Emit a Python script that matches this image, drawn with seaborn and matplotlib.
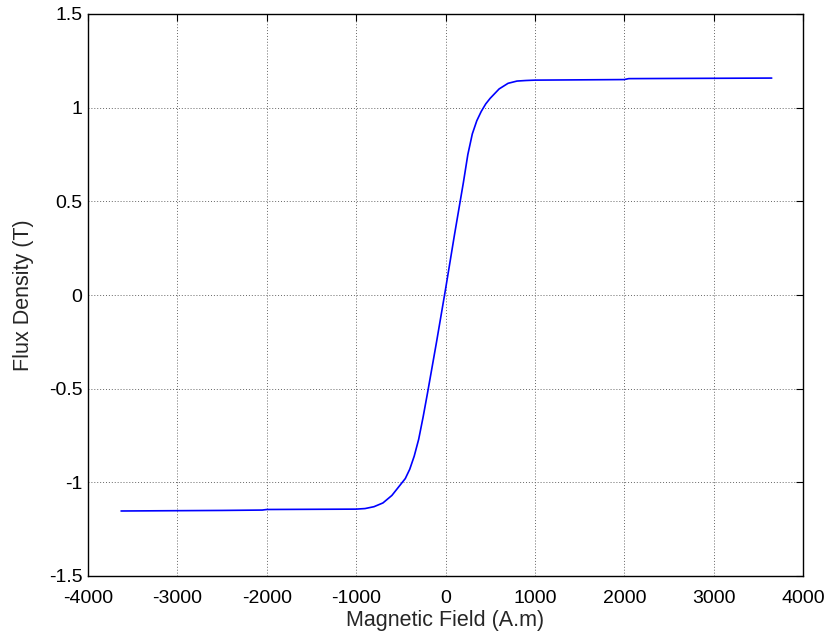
import matplotlib
matplotlib.use("Agg")
import matplotlib.pyplot as plt
import seaborn as sns
import pandas as pd

# Data (B-H curve)
field_h = [-3630, -2500, -2050, -2000, -1000, -900, -800, -700, -600, -500, -450, -400, -350,
           -300, -250, -200, -100, 0, 100, 200, 250, 300, 350, 400, 450, 500, 600, 700,
           800, 900, 1000, 2000, 2050, 3650]
flux_b = [-1.153, -1.150, -1.148, -1.145, -1.143, -1.14, -1.13, -1.11, -1.07, -1.01, -0.98,
          -0.93, -0.86, -0.77, -0.65, -0.52, -0.25, 0.03, 0.32, 0.60, 0.75, 0.86, 0.93, 0.98,
          1.02, 1.05, 1.10, 1.13, 1.142, 1.145, 1.147, 1.150, 1.155, 1.158]
x_ticks = [-4000, -3000, -2000, -1000, 0, 1000, 2000, 3000, 4000]
y_ticks = [-1.5, -1, -0.5, 0, 0.5, 1, 1.5]
y_tick_labels = ["-1.5", "-1", "-0.5", "0", "0.5", "1", "1.5"]

sns.set_style("white")
plt.rcParams['font.family'] = ['Liberation Sans', 'DejaVu Sans']

df = pd.DataFrame({"H": field_h, "B": flux_b})

fig = plt.figure(figsize=(8.27, 6.39), dpi=100)
ax = fig.add_axes([88/827, 63/639, 715/827, 562/639])
sns.lineplot(data=df, x="H", y="B", sort=False, estimator=None, color="#0000ff",
             linewidth=1.2, ax=ax)

ax.set_xlim(-4000, 4000)
ax.set_ylim(-1.5, 1.5)
ax.set_xticks(x_ticks)
ax.set_xticklabels([str(t) for t in x_ticks])
ax.set_yticks(y_ticks)
ax.set_yticklabels(y_tick_labels)
ax.grid(True, color="#666666", linestyle=(0, (1, 2)), linewidth=0.7)
ax.tick_params(direction="in", length=5, width=0.8, top=True, right=True,
               labelsize=14, colors="black")
ax.tick_params(axis="x", pad=10)
ax.tick_params(axis="y", pad=4)
for s in ax.spines.values():
    s.set_color("black")
    s.set_linewidth(1.0)
ax.set_xlabel("Magnetic Field (A.m)", fontsize=15.5, labelpad=2)
ax.set_ylabel("Flux Density (T)", fontsize=15.5, labelpad=11)

fig.savefig("out.png", dpi=100)
